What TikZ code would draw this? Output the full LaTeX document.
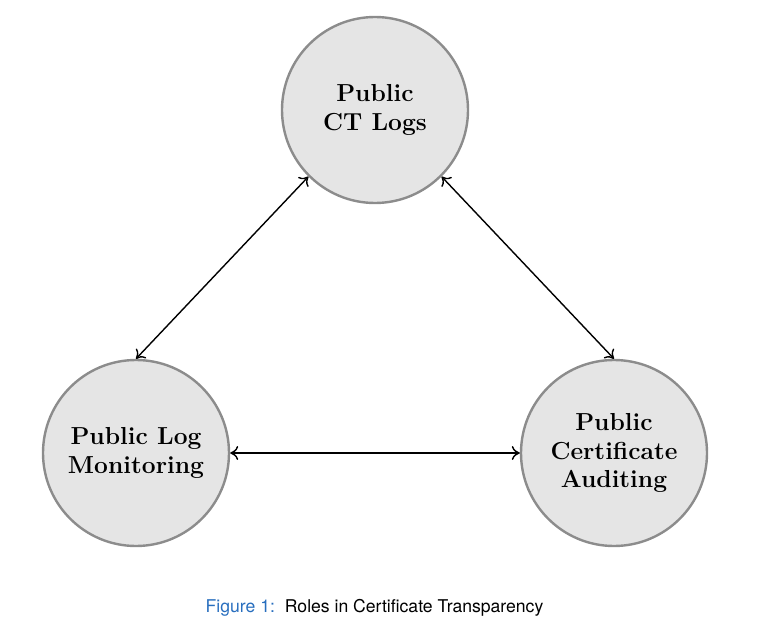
\documentclass[tikz,border=0pt]{standalone}
\usepackage{fontspec}
\newfontfamily\capfont{TeX Gyre Heros}
\usetikzlibrary{arrows.meta}
\definecolor{capblue}{RGB}{40,110,190}
\definecolor{circfill}{RGB}{229,229,229}
\definecolor{circdraw}{RGB}{140,140,140}
\begin{document}
\begin{tikzpicture}[x=0.5pt,y=-0.5pt,
  role/.style={circle,draw=circdraw,fill=circfill,line width=1.2pt,minimum size=186pt*0.5,inner sep=0pt,
    align=center,font=\fontsize{12.3pt}{14.2pt}\selectfont\bfseries},
  link/.style={{To[length=4pt,width=7pt]}-{To[length=4pt,width=7pt]},line width=0.7pt,black}]
\useasboundingbox (0,0) rectangle (776,642);
\node[role] (logs) at (375,110) {Public\\CT Logs};
\node[role] (mon) at (136,453) {Public Log\\Monitoring};
\node[role] (aud) at (614,453) {Public\\Certificate\\Auditing};
\draw[link] (logs.south west) -- (mon.north);
\draw[link] (logs.south east) -- (aud.north);
\draw[link] (mon.east) -- (aud.west);
\node[font=\capfont\fontsize{8.8pt}{10.5pt}\selectfont,inner sep=0pt] (cap) at (374.5,608) {\textcolor{capblue}{Figure 1:}\hspace{5pt}Roles in Certificate Transparency};
\end{tikzpicture}
\end{document}
